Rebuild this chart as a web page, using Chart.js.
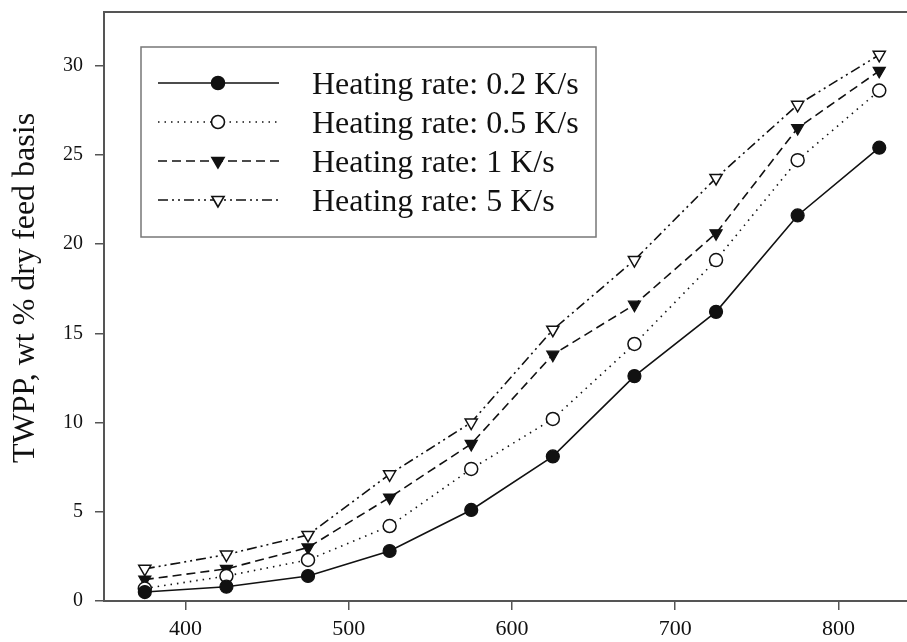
<!DOCTYPE html>
<html lang="en">
<head>
<meta charset="UTF-8">
<title>TWPP vs temperature</title>
<script src="https://cdn.jsdelivr.net/npm/chart.js"></script>
<style>
  html, body { margin: 0; padding: 0; background: #fff; }
  .chart-container { width: 907px; height: 642px; position: relative; }
</style>
</head>
<body>
<div class="chart-container"><canvas id="twppChart"></canvas></div>
<script>
// temperatures (x) and TWPP yields (wt % dry feed basis)
const temps = [375, 425, 475, 525, 575, 625, 675, 725, 775, 825];
const rate02 = [0.5, 0.8, 1.4, 2.8, 5.1, 8.1, 12.6, 16.2, 21.6, 25.4];
const rate05 = [0.7, 1.4, 2.3, 4.2, 7.4, 10.2, 14.4, 19.1, 24.7, 28.6];
const rate1 = [1.2, 1.8, 3.0, 5.8, 8.8, 13.8, 16.6, 20.6, 26.5, 29.7];
const rate5 = [1.8, 2.6, 3.7, 7.1, 10.0, 15.2, 19.1, 23.7, 27.8, 30.6];
const seriesLabels = ['Heating rate: 0.2 K/s', 'Heating rate: 0.5 K/s', 'Heating rate: 1 K/s', 'Heating rate: 5 K/s'];
const yTitle = 'TWPP, wt % dry feed basis';
const xTicks = [400, 500, 600, 700, 800];
const yTicks = [0, 5, 10, 15, 20, 25, 30];

const axisColor = '#555';
const ink = '#111';
const serif = '"Liberation Serif", "Times New Roman", serif';

function pts(values) {
    return temps.map((t, i) => ({ x: t, y: values[i] }));
}

// legend drawn as a boxed block inside the plot
const legendBox = {
    id: 'legendBox',
    afterDatasetsDraw(chart) {
        const { ctx, chartArea } = chart;
        const left = chartArea.left + 37, top = chartArea.top + 35;
        ctx.save();
        ctx.strokeStyle = '#777';
        ctx.lineWidth = 1.5;
        ctx.strokeRect(left, top, 455, 190);
        chart.data.datasets.forEach((ds, i) => {
            const y = top + 36 + i * 39;
            ctx.strokeStyle = ds.borderColor;
            ctx.lineWidth = ds.borderWidth;
            ctx.setLineDash(ds.borderDash);
            ctx.beginPath();
            ctx.moveTo(left + 17, y);
            ctx.lineTo(left + 138, y);
            ctx.stroke();
            ctx.setLineDash([]);
            ctx.fillStyle = ds.pointBackgroundColor;
            ctx.strokeStyle = ds.pointBorderColor;
            Chart.helpers.drawPoint(ctx, {
                pointStyle: ds.pointStyle,
                rotation: ds.pointRotation,
                radius: ds.pointRadius,
                borderWidth: ds.pointBorderWidth
            }, left + 77, y);
            ctx.fillStyle = ink;
            ctx.font = '32px ' + serif;
            ctx.textBaseline = 'alphabetic';
            ctx.fillText(ds.label, left + 171, y + 11);
        });
        ctx.restore();
    }
};

// top frame line + y axis title (sits a bit above the axis centre in the original)
const frameAndTitle = {
    id: 'frameAndTitle',
    afterDraw(chart) {
        const { ctx, chartArea } = chart;
        ctx.save();
        ctx.strokeStyle = axisColor;
        ctx.lineWidth = 2;
        ctx.beginPath();
        ctx.moveTo(chartArea.left - 1, chartArea.top);
        ctx.lineTo(chartArea.right, chartArea.top);
        ctx.stroke();

        ctx.translate(26, chartArea.top + 276);
        ctx.rotate(-Math.PI / 2);
        ctx.fillStyle = ink;
        ctx.font = '32px ' + serif;
        ctx.textAlign = 'center';
        ctx.textBaseline = 'middle';
        ctx.fillText(yTitle, 0, 0);
        ctx.restore();
    }
};

const ctx = document.getElementById('twppChart').getContext('2d');
new Chart(ctx, {
    type: 'line',
    data: {
        datasets: [
            {
                label: seriesLabels[0], data: pts(rate02),
                borderColor: ink, borderWidth: 1.6, borderDash: [],
                pointStyle: 'circle', pointRotation: 0, pointRadius: 6.5,
                pointBackgroundColor: ink, pointBorderColor: ink, pointBorderWidth: 1.2
            },
            {
                label: seriesLabels[1], data: pts(rate05),
                borderColor: ink, borderWidth: 1.6, borderDash: [1.5, 5],
                pointStyle: 'circle', pointRotation: 0, pointRadius: 6.5,
                pointBackgroundColor: '#fff', pointBorderColor: ink, pointBorderWidth: 1.5
            },
            {
                label: seriesLabels[2], data: pts(rate1),
                borderColor: ink, borderWidth: 1.6, borderDash: [9, 5],
                pointStyle: 'triangle', pointRotation: 180, pointRadius: 7,
                pointBackgroundColor: ink, pointBorderColor: ink, pointBorderWidth: 1.2
            },
            {
                label: seriesLabels[3], data: pts(rate5),
                borderColor: ink, borderWidth: 1.6, borderDash: [10, 4, 2, 4, 2, 4],
                pointStyle: 'triangle', pointRotation: 180, pointRadius: 7,
                pointBackgroundColor: '#fff', pointBorderColor: ink, pointBorderWidth: 1.5
            }
        ]
    },
    options: {
        responsive: true,
        maintainAspectRatio: false,
        animation: false,
        layout: { autoPadding: false, padding: { top: 12, right: 0, left: 0, bottom: 0 } },
        plugins: {
            legend: { display: false },
            tooltip: { enabled: false }
        },
        scales: {
            x: {
                type: 'linear',
                min: 350,
                max: 842,
                afterBuildTicks: (scale) => { scale.ticks = xTicks.map(v => ({ value: v })); },
                afterFit: (scale) => { scale.height = 41; scale.paddingLeft = 0; scale.paddingRight = 0; },
                grid: { display: true, drawOnChartArea: false, drawTicks: true, tickLength: 9, color: axisColor, lineWidth: 1.5 },
                border: { display: true, color: axisColor, width: 2 },
                ticks: { color: ink, font: { family: serif, size: 22 }, padding: 6, maxRotation: 0 }
            },
            y: {
                min: 0,
                max: 33,
                afterBuildTicks: (scale) => { scale.ticks = yTicks.map(v => ({ value: v })); },
                afterFit: (scale) => { scale.width = 104; scale.paddingTop = 0; scale.paddingBottom = 0; },
                grid: { display: true, drawOnChartArea: false, drawTicks: true, tickLength: 9, color: axisColor, lineWidth: 1.5 },
                border: { display: true, color: axisColor, width: 2 },
                ticks: { color: ink, font: { family: serif, size: 20 }, padding: 12 }
            }
        }
    },
    plugins: [legendBox, frameAndTitle]
});
</script>
</body>
</html>
